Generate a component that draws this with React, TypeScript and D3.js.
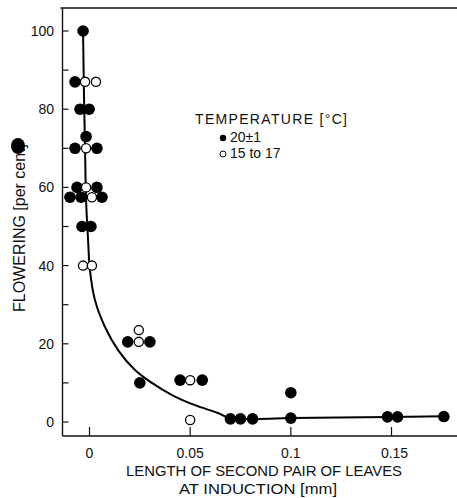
import React from "react";
import * as d3 from "d3";

const filledX = [-0.0032, -0.0072, -0.0047, -0.0002, -0.0017, -0.0072, 0.0037, -0.0062, 0.0037, -0.0097, -0.0042, 0.0062, -0.0037, 0.0007, 0.019, 0.03, 0.025, 0.045, 0.056, 0.07, 0.075, 0.081, 0.1, 0.1, 0.148, 0.153, 0.176];
const filledY = [100, 87, 80, 80, 73, 70, 70, 60, 60, 57.5, 57.5, 57.5, 50, 50, 20.5, 20.5, 10, 10.7, 10.7, 0.8, 0.8, 0.8, 1, 7.5, 1.3, 1.3, 1.4];
const openX = [-0.0022, 0.0032, -0.0017, -0.0017, 0.0012, -0.0032, 0.0012, 0.0245, 0.0245, 0.05, 0.05];
const openY = [87, 87, 70, 60, 57.5, 40, 40, 20.5, 23.5, 10.7, 0.5];
const curveX = [-0.0032, -0.0027, -0.0022, -0.0017, -0.0007, 0.0002, 0.0027, 0.0077, 0.0142, 0.0226, 0.031, 0.041, 0.0524, 0.0638, 0.0698, 0.1006, 0.149, 0.176];
const curveY = [100, 82.4, 69.6, 56.8, 46.5, 38.9, 31.2, 24.3, 18.4, 13.3, 10.0, 6.9, 4.3, 2.3, 1.0, 1.0, 1.3, 1.5];
const yTicks = [0, 10, 20, 30, 40, 50, 60, 70, 80, 90, 100];
const yTickLabels = [0, 20, 40, 60, 80, 100];
const xTicks = [0, 0.05, 0.1, 0.15];
const xTickLabels = ["0", "0.05", "0.1", "0.15"];
const legendTitle = "TEMPERATURE [°C]";
const legendItems = ["20±1", "15 to 17"];
const xTitle1 = "LENGTH OF SECOND PAIR OF LEAVES";
const xTitle2 = "AT INDUCTION [mm]";
const yTitle = "FLOWERING [per cent]";

export default function App() {
  const W = 457, H = 498;
  const x = d3.scaleLinear().domain([0, 0.15]).range([89.5, 391.5]);
  const y = d3.scaleLinear().domain([0, 100]).range([422, 31]);
  const axL = 62.5, axT = 8, axB = 436;
  const font = "'Liberation Sans', Arial, sans-serif";
  const curvePts: [number, number][] = curveX.map((v, i) => [v, curveY[i]]);
  const line = d3
    .line<[number, number]>()
    .x((d) => x(d[0]))
    .y((d) => y(d[1]))
    .curve(d3.curveCatmullRom.alpha(0.5));
  return (
    <svg
      width={W}
      height={H}
      style={{ position: "absolute", left: 0, top: 0, background: "#fff" }}
      fontFamily={font}
    >
      <rect x={0} y={0} width={W} height={H} fill="#fff" />
      {/* frame */}
      <line x1={axL - 2} y1={axT} x2={W} y2={axT} stroke="#111" strokeWidth={1.4} />
      <line x1={axL} y1={axT} x2={axL} y2={axB} stroke="#111" strokeWidth={1.4} />
      <line x1={axL} y1={axB} x2={W} y2={axB} stroke="#111" strokeWidth={1.4} />
      {/* y ticks */}
      {yTicks.map((t) => (
        <line key={"yt" + t} x1={axL} x2={axL + 6} y1={y(t)} y2={y(t)} stroke="#111" strokeWidth={1.2} />
      ))}
      {yTickLabels.map((t) => (
        <text key={"yl" + t} x={54} y={y(t)} dy="0.36em" textAnchor="end" fontSize={14} fill="#111">
          {t}
        </text>
      ))}
      {/* x ticks */}
      {xTicks.map((t, i) => (
        <g key={"xt" + t}>
          <line x1={x(t)} x2={x(t)} y1={axB} y2={axB - 9} stroke="#111" strokeWidth={1.2} />
          <text x={x(t) + (i === 3 ? 3 : 0)} y={458} textAnchor="middle" fontSize={14} fill="#111">
            {xTickLabels[i]}
          </text>
        </g>
      ))}
      {/* axis titles */}
      <text x={264} y={476} textAnchor="middle" fontSize={15} textLength={276} lengthAdjust="spacingAndGlyphs" fill="#111">
        {xTitle1}
      </text>
      <text x={258} y={494} textAnchor="middle" fontSize={15} textLength={158} lengthAdjust="spacingAndGlyphs" fill="#111">
        {xTitle2}
      </text>
      <text transform={`translate(25,312) rotate(-90)`} x={0} y={0} textAnchor="start" fontSize={16} fill="#111">
        {yTitle}
      </text>
      <ellipse cx={18} cy={146} rx={7} ry={8} fill="#000" />
      {/* curve */}
      <path d={line(curvePts) || ""} fill="none" stroke="#000" strokeWidth={2} />
      {/* points */}
      {filledX.map((v, i) => (
        <circle key={"f" + i} cx={x(v)} cy={y(filledY[i])} r={5.8} fill="#000" />
      ))}
      {openX.map((v, i) => (
        <circle key={"o" + i} cx={x(v)} cy={y(openY[i])} r={4.6} fill="#fff" stroke="#000" strokeWidth={1.3} />
      ))}
      {/* legend */}
      <text x={195} y={124} fontSize={14} textLength={152} lengthAdjust="spacing" fill="#111">
        {legendTitle}
      </text>
      <circle cx={223} cy={138} r={3.2} fill="#000" />
      <text x={230} y={142} fontSize={14} fill="#111">
        {legendItems[0]}
      </text>
      <circle cx={223} cy={154} r={3} fill="#fff" stroke="#000" strokeWidth={1} />
      <text x={230} y={158} fontSize={14} fill="#111">
        {legendItems[1]}
      </text>
    </svg>
  );
}
